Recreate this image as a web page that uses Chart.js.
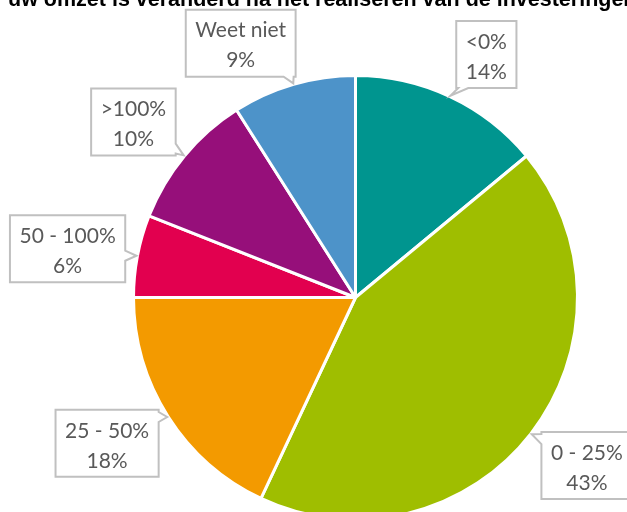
<!DOCTYPE html>
<html>
<head>
<meta charset="utf-8">
<script src="https://cdn.jsdelivr.net/npm/chart.js@4"></script>
<style>
  html, body { margin: 0; padding: 0; background: #fff; }
  body { width: 627px; height: 512px; overflow: hidden; position: relative; }
  #title {
    position: absolute; left: 8px; top: -11.5px; white-space: nowrap;
    font: bold 21.5px "Liberation Sans", Arial, sans-serif; line-height: 20px; color: #000;
  }
  #wrap { position: absolute; left: 0; top: 0; width: 627px; height: 560px; }
</style>
</head>
<body>
<div id="wrap"><canvas id="pie" width="627" height="560"></canvas></div>
<div id="title">uw omzet is veranderd na het realiseren van de investeringen</div>
<script>
const categories = ["<0%", "0 - 25%", "25 - 50%", "50 - 100%", ">100%", "Weet niet"];
const shares = [14, 43, 18, 6, 10, 9];
const sliceColors = ["#00958f", "#9fbe00", "#f39a00", "#e2004f", "#960f7a", "#4d93c9"];

// callout box placement: [distance from centre, turn in degrees from the slice middle]
const calloutPlace = [[276, 3.1], [286, -1.8], [288, 2.0], [292, -1.2], [283, -1.3], [279, -8.1]];

function calloutPath(ctx, l, t, r, b, tx, ty) {
  const m = Math.max(l - tx, tx - r, t - ty, ty - b);
  const side = m === ty - b ? "bottom" : m === t - ty ? "top" : m === l - tx ? "left" : "right";
  const clamp = (v, lo, hi) => Math.min(Math.max(v, lo), hi);
  const half = 5;
  ctx.beginPath();
  ctx.moveTo(l, t);
  if (side === "top") {
    const c = clamp(tx, l + 7, r - 7);
    ctx.lineTo(c - half, t); ctx.lineTo(tx, ty); ctx.lineTo(c + half, t);
  }
  ctx.lineTo(r, t);
  if (side === "right") {
    const c = clamp(ty, t + 7, b - 7);
    ctx.lineTo(r, c - half); ctx.lineTo(tx, ty); ctx.lineTo(r, c + half);
  }
  ctx.lineTo(r, b);
  if (side === "bottom") {
    const c = clamp(tx, l + 7, r - 7);
    ctx.lineTo(c + half, b); ctx.lineTo(tx, ty); ctx.lineTo(c - half, b);
  }
  ctx.lineTo(l, b);
  if (side === "left") {
    const c = clamp(ty, t + 7, b - 7);
    ctx.lineTo(l, c + half); ctx.lineTo(tx, ty); ctx.lineTo(l, c - half);
  }
  ctx.closePath();
}

const callouts = {
  id: "callouts",
  afterDatasetsDraw(chart) {
    const ctx = chart.ctx;
    const meta = chart.getDatasetMeta(0);
    ctx.save();
    ctx.font = '21px Lato, "Open Sans", sans-serif';
    meta.data.forEach((arc, i) => {
      const p = arc.getProps(["x", "y", "startAngle", "endAngle", "outerRadius"], true);
      const mid = (p.startAngle + p.endAngle) / 2;
      const tx = p.x + Math.cos(mid) * (p.outerRadius + 1);
      const ty = p.y + Math.sin(mid) * (p.outerRadius + 1);
      const [dist, turn] = calloutPlace[i];
      const a = mid + turn * Math.PI / 180;
      const cx = p.x + Math.cos(a) * dist;
      const cy = p.y + Math.sin(a) * dist;
      const lines = [categories[i], shares[i] + "%"];
      const w = Math.max(...lines.map((s) => ctx.measureText(s).width)) + 19;
      const h = 67;
      const l = cx - w / 2, t = cy - h / 2;
      calloutPath(ctx, l, t, l + w, t + h, tx, ty);
      ctx.fillStyle = "#fff";
      ctx.fill();
      ctx.lineWidth = 2;
      ctx.strokeStyle = "#c0c0c0";
      ctx.stroke();
      ctx.fillStyle = "#595959";
      ctx.textAlign = "center";
      ctx.textBaseline = "middle";
      ctx.fillText(lines[0], cx, t + 21);
      ctx.fillText(lines[1], cx, t + 51);
    });
    ctx.restore();
  }
};

new Chart(document.getElementById("pie"), {
  type: "pie",
  data: {
    labels: categories,
    datasets: [{
      data: shares,
      backgroundColor: sliceColors,
      borderColor: "#ffffff",
      borderWidth: 3
    }]
  },
  options: {
    responsive: false,
    animation: false,
    layout: { padding: { top: 74, left: 132, right: 48, bottom: 39 } },
    plugins: {
      legend: { display: false },
      tooltip: { enabled: false }
    }
  },
  plugins: [callouts]
});
</script>
</body>
</html>
